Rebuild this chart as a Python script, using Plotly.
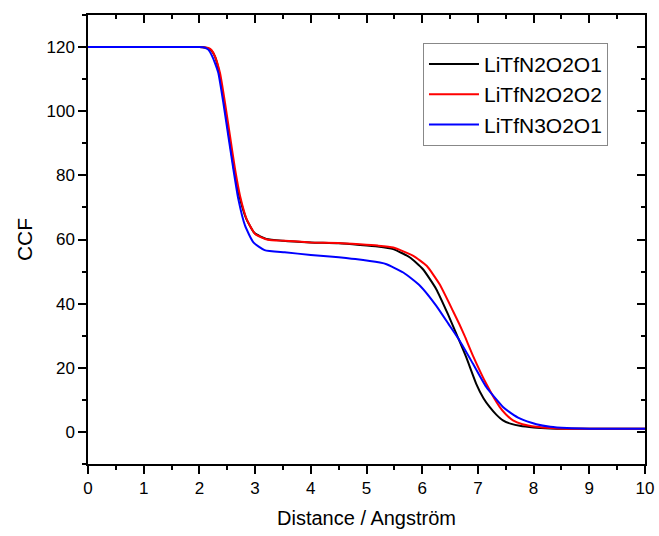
import plotly.graph_objects as go

x_n2o2o1 = [0, 1.0, 1.9, 2.0, 2.1, 2.16, 2.22, 2.28, 2.35, 2.44, 2.53, 2.62, 2.71, 2.84, 2.99, 3.2, 3.5, 4.0, 4.5,
            4.88, 5.2, 5.48, 5.78, 6.01, 6.25, 6.46, 6.64, 6.79, 6.97, 7.1, 7.21, 7.33, 7.45, 7.6, 7.75, 8.0, 8.3,
            8.6, 10.0]
y_n2o2o1 = [120, 120, 120, 120, 119.9, 119.6, 118.8, 117.0, 112.5, 103, 92.5, 82, 74, 66.5, 62, 60.2, 59.6, 59.1, 58.8,
            58.3, 57.8, 57.0, 54.4, 50.8, 44.6, 36.8, 29.5, 23.3, 15.0, 10.5, 7.8, 5.4, 3.6, 2.5, 1.9, 1.4, 1.1,
            1.0, 1.0]

x_n2o2o2 = [0, 1.0, 1.9, 2.0, 2.1, 2.16, 2.22, 2.28, 2.37, 2.46, 2.55, 2.64, 2.73, 2.85, 3.0, 3.23, 3.53, 4.0, 4.5,
            4.88, 5.2, 5.48, 5.84, 6.08, 6.31, 6.55, 6.67, 6.76, 6.91, 7.15, 7.39, 7.5, 7.63, 7.8, 8.05, 8.3, 8.6,
            10.0]
y_n2o2o2 = [120, 120, 120, 120, 119.9, 119.7, 119.0, 117.1, 111.9, 102.6, 92.2, 81.9, 73.6, 66.3, 61.7, 59.9, 59.6,
            59.1, 58.9, 58.5, 58.1, 57.5, 54.9, 51.8, 46.1, 37.8, 33.5, 30.0, 23.8, 15.0, 7.8, 5.5, 3.6, 2.4, 1.6,
            1.2, 1.0, 1.0]

x_n3o2o1 = [0, 1.0, 1.9, 2.0, 2.1, 2.16, 2.22, 2.28, 2.34, 2.43, 2.52, 2.61, 2.70, 2.82, 2.97, 3.17, 3.53, 4.0, 4.34,
            4.8, 5.24, 5.36, 5.66, 5.96, 6.25, 6.49, 6.67, 6.91, 7.15, 7.45, 7.6, 7.75, 8.05, 8.3, 8.6, 9.0, 10.0]
y_n3o2o1 = [120, 120, 120, 120, 119.8, 119.2, 117.5, 115.0, 111.9, 102.6, 92.2, 81.9, 72.5, 64.3, 59.1, 56.7, 56.0,
            55.2, 54.7, 53.9, 52.8, 52.3, 49.7, 45.6, 39.4, 33.2, 28.5, 21.3, 14.0, 7.8, 5.8, 4.2, 2.4, 1.6, 1.2,
            1.0, 1.0]

series = [
    ("LiTfN2O2O1", x_n2o2o1, y_n2o2o1, "#000000"),
    ("LiTfN2O2O2", x_n2o2o2, y_n2o2o2, "#ff0000"),
    ("LiTfN3O2O1", x_n3o2o1, y_n3o2o1, "#0000ff"),
]

x_range = [0, 10]
y_range = [-10, 130]

FONT = "Liberation Sans, Arial, sans-serif"

fig = go.Figure()
for name, xs, ys, col in series:
    fig.add_trace(go.Scatter(x=xs, y=ys, mode="lines", name=name,
                             line=dict(color=col, width=2, shape="spline", smoothing=0.5)))

# invisible trace to activate mirror axes
fig.add_trace(go.Scatter(x=x_range, y=y_range, xaxis="x2", yaxis="y2", mode="lines",
                         line=dict(width=0), showlegend=False, hoverinfo="skip", opacity=0))

common_ax = dict(showgrid=False, zeroline=False, showline=True, linecolor="black", linewidth=1.5,
                 tickcolor="black", tickwidth=1.5, ticklen=8, automargin=False)

fig.update_layout(
    width=659, height=536,
    margin=dict(l=88, r=14, t=15, b=72),
    paper_bgcolor="white", plot_bgcolor="white",
    font=dict(family=FONT, color="black"),
    xaxis=dict(range=x_range, dtick=1, ticks="outside", tickfont=dict(size=17),
               title=dict(text="Distance / Angström", font=dict(size=20), standoff=14),
               minor=dict(dtick=0.5, ticks="outside", ticklen=4, tickcolor="black", tickwidth=1.5),
               **common_ax),
    yaxis=dict(range=y_range, tick0=0, dtick=20, ticks="outside", tickfont=dict(size=17),
               title=dict(text="CCF", font=dict(size=21), standoff=8),
               minor=dict(dtick=10, ticks="outside", ticklen=4, tickcolor="black", tickwidth=1.5),
               **common_ax),
    xaxis2=dict(range=x_range, overlaying="x", side="top", anchor="y", dtick=1, ticks="inside",
                showticklabels=False,
                minor=dict(dtick=0.5, ticks="inside", ticklen=4, tickcolor="black", tickwidth=1.5),
                **common_ax),
    yaxis2=dict(range=y_range, overlaying="y", side="right", anchor="x", tick0=0, dtick=20, ticks="inside",
                showticklabels=False,
                minor=dict(dtick=10, ticks="inside", ticklen=4, tickcolor="black", tickwidth=1.5),
                **common_ax),
    legend=dict(x=0.6014, y=0.938, xanchor="left", yanchor="top",
                bgcolor="white", bordercolor="#888888", borderwidth=1,
                font=dict(size=21, family=FONT), itemwidth=50, tracegroupgap=0),
    showlegend=True,
)

fig.write_html("out.html")
